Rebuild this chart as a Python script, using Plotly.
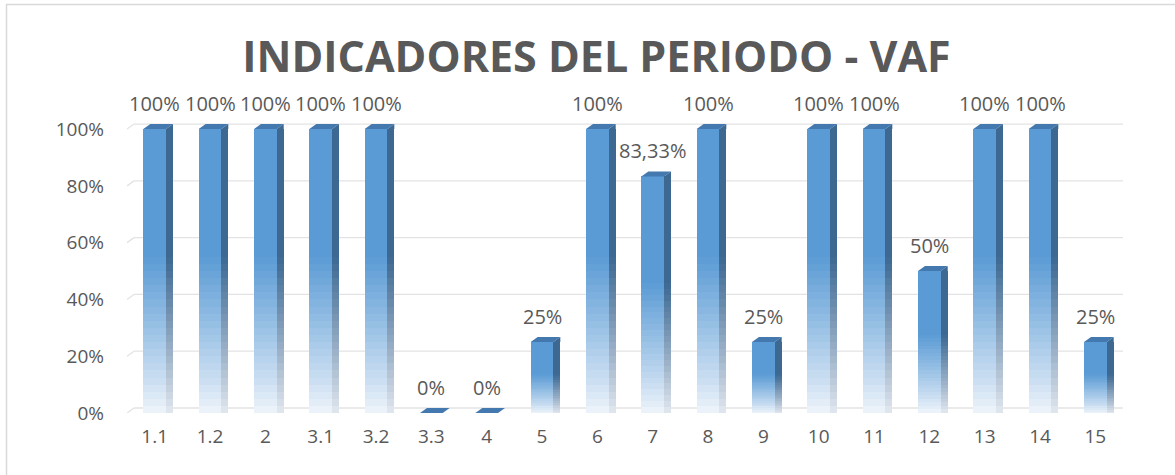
import plotly.graph_objects as go

# ---- data ----
categories = ["1.1", "1.2", "2", "3.1", "3.2", "3.3", "4", "5", "6", "7", "8", "9",
              "10", "11", "12", "13", "14", "15"]
values = [1.0, 1.0, 1.0, 1.0, 1.0, 0.0, 0.0, 0.25, 1.0, 0.8333, 1.0, 0.25,
          1.0, 1.0, 0.5, 1.0, 1.0, 0.25]
labels = ["100%", "100%", "100%", "100%", "100%", "0%", "0%", "25%", "100%", "83,33%",
          "100%", "25%", "100%", "100%", "50%", "100%", "100%", "25%"]
y_ticks = [0, 0.2, 0.4, 0.6, 0.8, 1.0]
y_ticktext = ["0%", "20%", "40%", "60%", "80%", "100%"]

# ---- style ----
TEXT = "#595959"
FONT = "Open Sans"
FRONT_TOP = (91, 155, 213)
FRONT_BOT = (240, 245, 251)
SIDE_TOP = (60, 104, 146)
SIDE_BOT = (228, 233, 240)
TOP_FACE = "#4479B0"
GRID = "#E3E3E3"

N = 40
FRONT_W = 0.41
SIDE_W = 0.127
DX, DY = 7, 5  # depth in px

L, R, T, B = 127, 52, 95, 62
W, H = 1175, 475
YMAX = 1.12
PX_PER_X = (W - L - R) / 18.0


def mix(c1, c2, t):
    return "rgb(%d,%d,%d)" % tuple(round(a + (b - a) * t) for a, b in zip(c1, c2))


def grad_t(f):
    t = min(1.0, f / 0.55)
    return t ** 0.9


xs = list(range(len(categories)))
fig = go.Figure()

for k in range(N):
    f = (k + 0.5) / N
    t = grad_t(f)
    bases = [v * k / N for v in values]
    heights = [v / N * 1.02 for v in values]
    fig.add_trace(go.Bar(
        x=xs, y=heights, base=bases, width=FRONT_W, offset=-FRONT_W / 2,
        marker=dict(color=mix(FRONT_BOT, FRONT_TOP, t), line=dict(width=0)),
        hoverinfo="skip", showlegend=False))
    fig.add_trace(go.Bar(
        x=xs, y=heights, base=bases, width=SIDE_W, offset=FRONT_W / 2,
        marker=dict(color=mix(SIDE_BOT, SIDE_TOP, t), line=dict(width=0)),
        hoverinfo="skip", showlegend=False))

shapes = []
for tv in y_ticks:
    shapes.append(dict(type="line", xref="x", yref="y", ysizemode="pixel", yanchor=tv,
                       x0=-0.5 + DX / PX_PER_X, x1=17.55, y0=DY, y1=DY,
                       line=dict(color=GRID, width=1.3), layer="below"))
    shapes.append(dict(type="line", xref="x", yref="y", xsizemode="pixel", ysizemode="pixel",
                       xanchor=-0.5, yanchor=tv, x0=0, x1=DX, y0=0, y1=DY,
                       line=dict(color=GRID, width=1.3), layer="below"))

fw_px = FRONT_W * PX_PER_X
for x, v in zip(xs, values):
    xr = x + FRONT_W / 2
    shapes.append(dict(type="path", xref="x", yref="y", xsizemode="pixel", ysizemode="pixel",
                       xanchor=xr, yanchor=v,
                       path=f"M {-fw_px:.2f},0 L 0,0 L {DX},{DY} L {DX - fw_px:.2f},{DY} Z",
                       fillcolor=TOP_FACE, line=dict(width=0), layer="above"))
    if v > 0:
        shapes.append(dict(type="path", xref="x", yref="y", xsizemode="pixel", ysizemode="pixel",
                           xanchor=xr, yanchor=v,
                           path=f"M 0,0 L {DX},{DY} L {DX},0 Z",
                           fillcolor=mix(SIDE_BOT, SIDE_TOP, 1.0), line=dict(width=0),
                           layer="above"))


def px_to_paper_x(px):
    return (px - L) / (W - L - R)


def px_to_paper_y(py):
    return (H - B - py) / (H - B - T)


shapes.append(dict(type="line", xref="paper", yref="paper",
                   x0=px_to_paper_x(6), x1=px_to_paper_x(1176),
                   y0=px_to_paper_y(4.5), y1=px_to_paper_y(4.5),
                   line=dict(color="#D9D9D9", width=1.5)))
shapes.append(dict(type="line", xref="paper", yref="paper",
                   x0=px_to_paper_x(6.5), x1=px_to_paper_x(6.5),
                   y0=px_to_paper_y(4), y1=px_to_paper_y(476),
                   line=dict(color="#D9D9D9", width=1.5)))

annotations = []
for x, v, lab in zip(xs, values, labels):
    annotations.append(dict(x=x, y=v, xref="x", yref="y", text=lab, showarrow=False,
                            yanchor="bottom", yshift=10,
                            font=dict(family=FONT, size=20, color=TEXT)))

fig.update_layout(
    width=W, height=H,
    margin=dict(l=L, r=R, t=T, b=B, autoexpand=False),
    paper_bgcolor="white", plot_bgcolor="white",
    barmode="overlay", bargap=0,
    title=dict(text="<b>INDICADORES DEL PERIODO - VAF</b>",
               x=596.5 / W, xref="container", xanchor="center",
               y=1 - 57 / H, yref="container", yanchor="middle",
               font=dict(family=FONT, size=43, color=TEXT)),
    xaxis=dict(range=[-0.5, 17.5], tickvals=xs, ticktext=categories,
               showgrid=False, zeroline=False, showline=False, ticks="",
               automargin=False, ticklabelstandoff=10,
               tickfont=dict(family=FONT, size=19, color=TEXT)),
    yaxis=dict(range=[0, YMAX], tickvals=y_ticks, ticktext=y_ticktext,
               showgrid=False, zeroline=False, showline=False, ticks="",
               automargin=False, ticklabelstandoff=22,
               tickfont=dict(family=FONT, size=19, color=TEXT)),
    shapes=shapes,
    annotations=annotations,
)

fig.write_html("out.html", config={"displayModeBar": False},
               post_script="document.body.style.margin='0';")
